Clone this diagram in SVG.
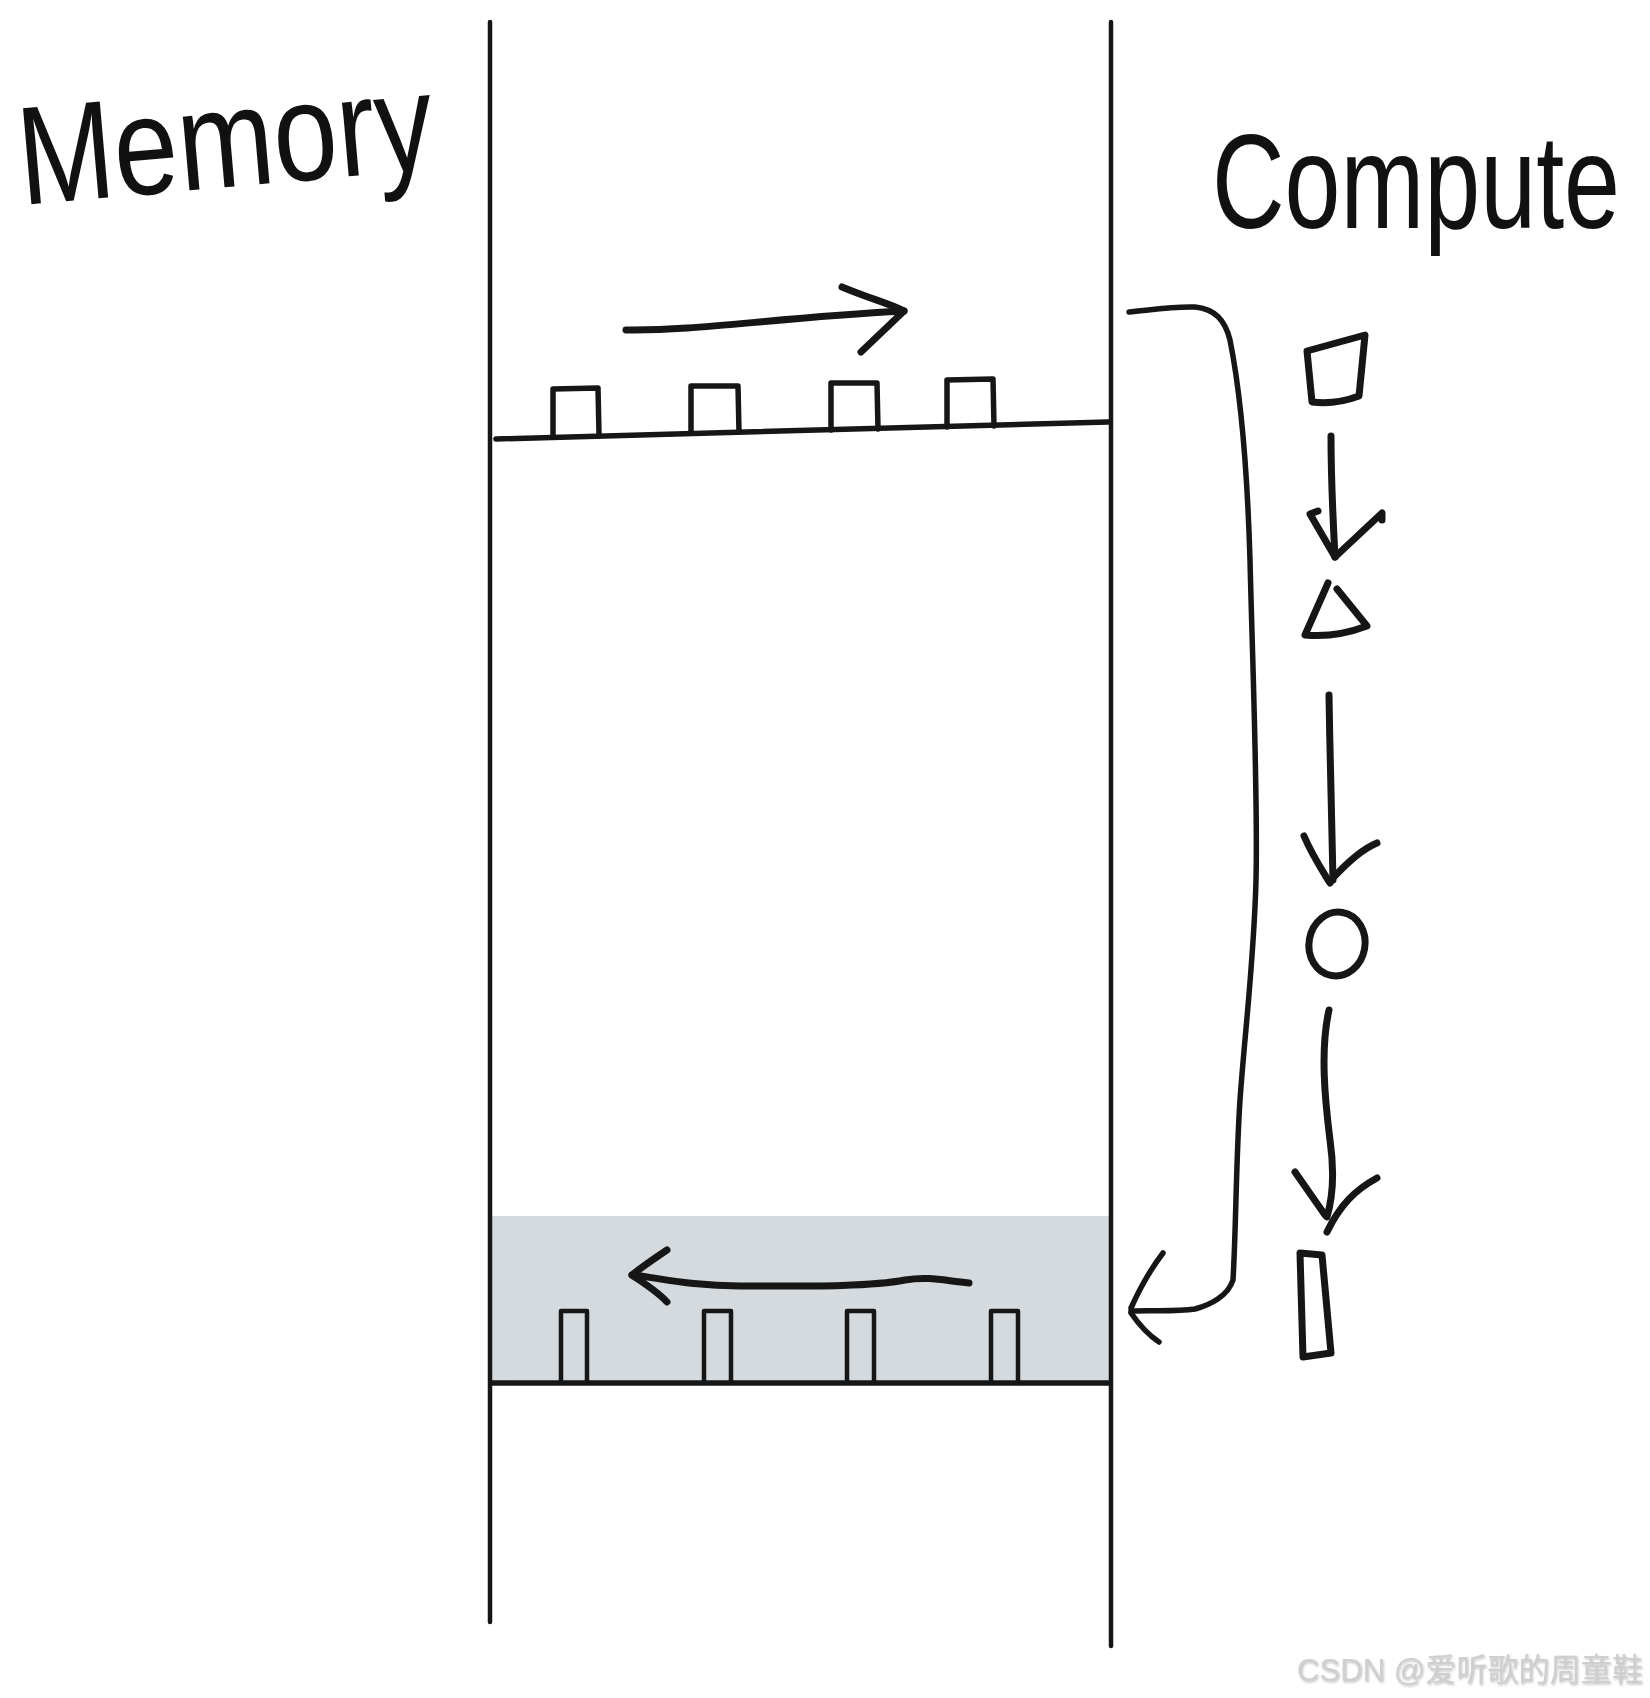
<svg xmlns="http://www.w3.org/2000/svg" width="1650" height="1698" viewBox="0 0 1650 1698">
<style>
.ink{fill:none;stroke:#161616;stroke-linecap:round;stroke-linejoin:round}
.thin{stroke-width:4.5}
.mid{stroke-width:5.5}
.pen{stroke-width:7}
.hand{font-family:"Liberation Sans","DejaVu Sans",sans-serif;fill:#111}
.wm{font-family:"Liberation Sans","Noto Sans CJK SC",sans-serif;font-size:32px;fill:#cfcfcf}
</style>
<defs>
<filter id="emboss" x="-5%" y="-30%" width="110%" height="160%">
<feDropShadow dx="1" dy="1.5" stdDeviation="0.8" flood-color="#9a9a9a" flood-opacity="0.6"/>
</filter>
</defs>
<rect width="1650" height="1698" fill="#ffffff"/>

<g id="memory-label">
<text class="hand" x="22" y="205" font-size="140" textLength="416" lengthAdjust="spacingAndGlyphs" transform="rotate(-5 22 205)">Memory</text>
</g>
<g id="compute-label" transform="translate(1212,228) scale(1,1.28)">
<text class="hand" x="0" y="0" font-size="105" textLength="408" lengthAdjust="spacingAndGlyphs">Compute</text>
</g>

<g id="memory-column">
<rect x="492" y="1216" width="617" height="167" fill="#d4dadd"/>
<path class="ink thin" d="M490,22 L490,1622"/>
<path class="ink thin" d="M1111,22 L1111,1646"/>
</g>

<g id="input-row">
<path class="ink mid" d="M496,439 L1108,422"/>
<path class="ink mid" d="M553,436 L553,389 L598,388 L599,434"/>
<path class="ink mid" d="M691,433 L691,386 L738,386 L739,432"/>
<path class="ink mid" d="M831,430 L831,383 L877,383 L878,429"/>
<path class="ink mid" d="M947,427 L947,380 L993,379 L994,426"/>
</g>

<g id="output-row">
<path class="ink mid" d="M492,1383 L1109,1383"/>
<path class="ink thin" d="M561,1383 L561,1311 L587,1311 L587,1383"/>
<path class="ink thin" d="M704,1383 L704,1311 L731,1311 L731,1383"/>
<path class="ink thin" d="M847,1383 L847,1311 L874,1311 L874,1383"/>
<path class="ink thin" d="M991,1383 L991,1311 L1018,1311 L1018,1383"/>
</g>

<g id="compute-square">
<path class="ink pen" d="M1307,351 L1365,335 L1359,396 Q1335,405 1312,402 Z"/>
</g>
<g id="compute-triangle">
<path class="ink pen" d="M1328,583 L1305,635 Q1335,638 1367,626 L1337,589"/>
</g>
<g id="compute-circle">
<ellipse class="ink pen" cx="1337" cy="944" rx="28" ry="32" transform="rotate(10 1337 944)"/>
</g>
<g id="compute-bar">
<path class="ink pen" d="M1300,1253 L1322,1255 L1331,1353 L1303,1357 Z"/>
</g>

<g id="connectors">
<path class="ink pen" d="M626,330 C700,331 770,318 904,311"/>
<path class="ink pen" d="M842,287 C868,298 888,303 904,311 L861,352"/>

<path class="ink pen" d="M969,1283 C945,1281 930,1276 905,1280 C870,1287 800,1286 740,1286 C690,1286 660,1278 632,1275"/>
<path class="ink pen" d="M667,1250 C655,1258 642,1267 632,1275 C645,1284 658,1292 667,1302"/>

<path class="ink mid" d="M1129,312 C1150,310 1175,306 1195,307 C1215,309 1225,320 1230,340 C1240,390 1247,460 1250,560 C1253,680 1258,800 1256,880 C1254,960 1245,1030 1240,1100 C1236,1160 1236,1230 1233,1280 C1228,1296 1210,1305 1195,1309 C1175,1312 1150,1310 1131,1311"/>
<path class="ink mid" d="M1163,1253 C1150,1270 1140,1288 1131,1308 M1131,1313 C1140,1326 1150,1336 1159,1342"/>

<path class="ink pen" d="M1331,436 C1331,480 1333,520 1335,557"/>
<path class="ink pen" d="M1318,511 L1310,514 L1335,557 L1382,513 L1382,520"/>

<path class="ink pen" d="M1329,695 C1330,760 1332,830 1333,880"/>
<path class="ink pen" d="M1304,836 C1312,855 1322,870 1330,883 M1333,878 C1345,865 1360,850 1377,843"/>

<path class="ink pen" d="M1329,1010 C1320,1050 1325,1100 1330,1140 C1335,1175 1332,1200 1327,1217"/>
<path class="ink pen" d="M1295,1172 L1325,1215 M1327,1232 C1340,1205 1355,1190 1377,1178"/>
</g>

<g id="watermark">
<text class="wm" x="1297" y="1681" textLength="346" lengthAdjust="spacingAndGlyphs" filter="url(#emboss)">CSDN @爱听歌的周童鞋</text>
</g>
</svg>
